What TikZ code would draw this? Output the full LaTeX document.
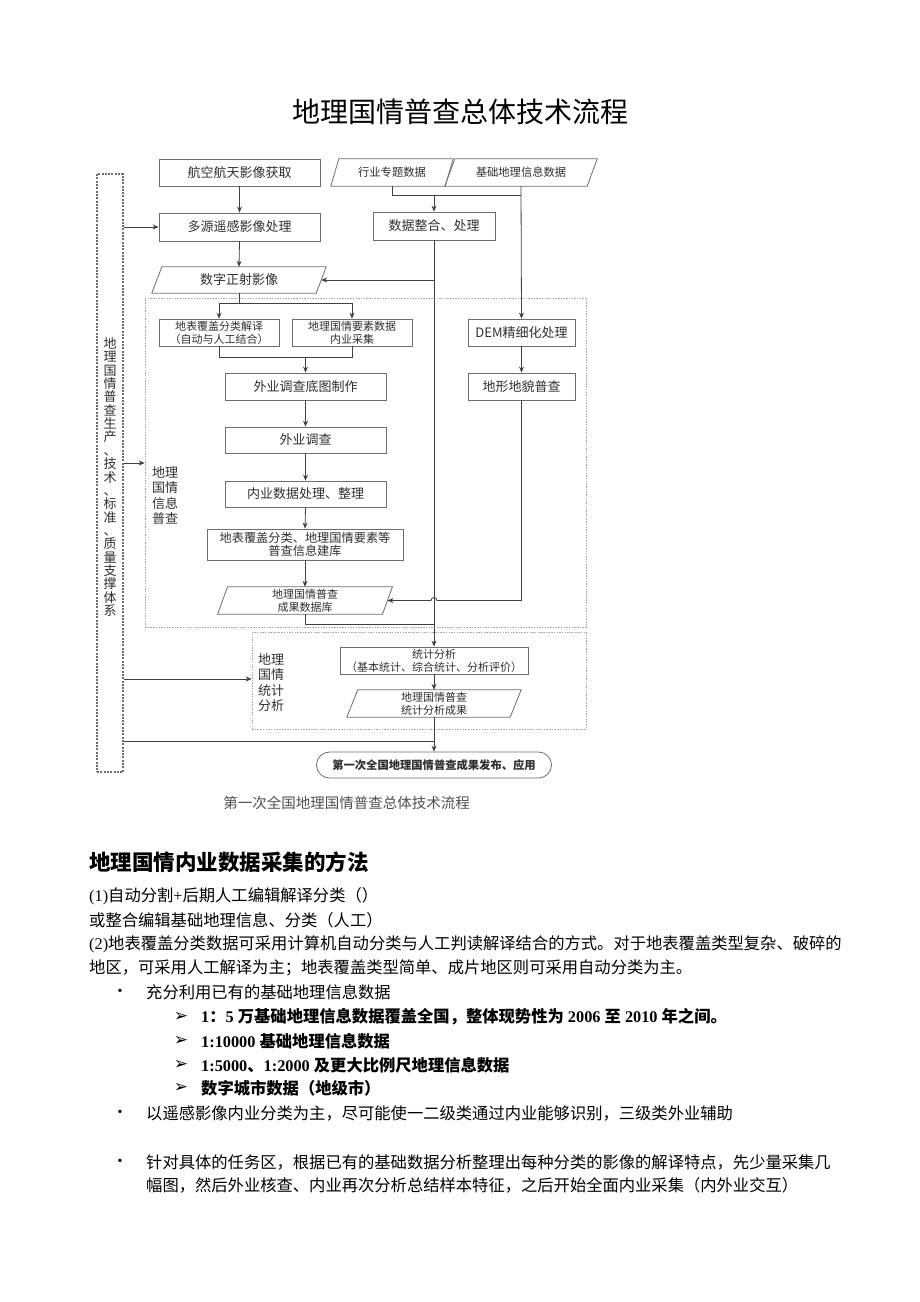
\documentclass[tikz,border=0pt]{standalone}
\usepackage{fontspec}
\setmainfont{Noto Sans CJK SC}
\newfontfamily\tnr{Liberation Serif}
\newfontfamily\dvs{DejaVu Sans}
\usetikzlibrary{arrows.meta}
\definecolor{boxc}{HTML}{6E6E6E}
\definecolor{linec}{HTML}{404040}
\definecolor{txt}{HTML}{303030}
\definecolor{contc}{HTML}{A8A8A8}
\definecolor{capc}{HTML}{505050}
\newcommand\drawpara[2]{\draw[boxc,line width=0.8pt] ([xshift=-#2]#1.south west) -- ([xshift=#2]#1.north west) -- ([xshift=#2]#1.north east) -- ([xshift=-#2]#1.south east) -- cycle;}
\tikzset{
  box/.style={draw=boxc, line width=0.8pt, inner sep=0pt, text=txt, align=center, font=\fontsize{13}{15}\selectfont},
  paranode/.style={inner sep=0pt, text=txt, align=center, font=\fontsize{13}{15}\selectfont},
  small/.style={font=\fontsize{11}{12.8}\selectfont},
  arr/.style={draw=linec, line width=0.8pt, -{Stealth[length=6pt,width=5pt]}},
  ln/.style={draw=linec, line width=0.8pt},
  cont/.style={draw=contc, line width=0.6pt, dash pattern=on 1.5pt off 1.2pt, inner sep=0pt},
  lbl/.style={inner sep=0pt, align=left, text=txt, font=\fontsize{13}{15.6}\selectfont},
  body/.style={anchor=west, inner sep=0pt, font=\fontsize{16.3}{20}\selectfont},
  bbody/.style={anchor=west, inner sep=0pt, font=\bfseries\fontsize{16.3}{20}\selectfont},
  bmark/.style={anchor=center, inner sep=0pt}
}
\begin{document}
\begin{tikzpicture}[x=1pt,y=-1pt]
\fill[white] (0,0) rectangle (920,1302);
\useasboundingbox (0,0) rectangle (920,1302);

% title
\node[font=\fontsize{28}{32}\selectfont] (title) at (460,112) {地理国情普查总体技术流程};

% containers
\node[cont, minimum width=441pt, minimum height=329pt] (c1) at (365.5,462.5) {};
\node[cont, minimum width=334pt, minimum height=97pt] (c2) at (419,680.5) {};
\node[draw=boxc, line width=1.1pt, dash pattern=on 2pt off 1.3pt, inner sep=0pt, minimum width=26pt, minimum height=598pt] (lbox) at (110,473) {};
\node[inner sep=0pt, align=center, text=txt, font=\fontsize{13}{13.35}\selectfont] (vt) at (110,477)
  {地\\理\\国\\情\\普\\查\\生\\产\\、\\技\\术\\、\\标\\准\\、\\质\\量\\支\\撑\\体\\系};
\node[lbl, anchor=north west] (l1) at (152,466) {地理\\国情\\信息\\普查};
\node[lbl, anchor=north west] (l2) at (258,653) {地理\\国情\\统计\\分析};

% boxes
\node[box, minimum width=161pt, minimum height=27pt] (acq) at (239.5,172.5) {航空航天影像获取};
\node[box, minimum width=161pt, minimum height=28pt] (msrs) at (239.5,227) {多源遥感影像处理};
\node[paranode, minimum width=164pt, minimum height=26pt] (dom) at (239,280) {数字正射影像};
\drawpara{dom}{5pt}
\node[paranode, font=\fontsize{11.3}{13}\selectfont, minimum width=114pt, minimum height=27pt] (hy) at (392,172.5) {行业专题数据};
\drawpara{hy}{4pt}
\node[paranode, font=\fontsize{11.3}{13}\selectfont, minimum width=142pt, minimum height=27pt] (jc) at (521,172.5) {基础地理信息数据};
\drawpara{jc}{5pt}
\node[box, minimum width=122pt, minimum height=28pt] (sjzh) at (434,226) {数据整合、处理};

\node[box, small, minimum width=120pt, minimum height=27pt] (dbfg) at (219,332.5) {地表覆盖分类解译\\（自动与人工结合）};
\node[box, small, minimum width=120pt, minimum height=27pt] (yssj) at (352,332.5) {地理国情要素数据\\内业采集};
\node[box, minimum width=161pt, minimum height=27pt] (dctz) at (305.5,386.5) {外业调查底图制作};
\node[box, minimum width=161pt, minimum height=26pt] (wydc) at (305.5,440) {外业调查};
\node[box, minimum width=161pt, minimum height=26pt] (nysj) at (305.5,494) {内业数据处理、整理};
\node[box, font=\fontsize{12.2}{13.5}\selectfont, minimum width=196pt, minimum height=31pt] (jk) at (305,544.5) {地表覆盖分类、地理国情要素等\\普查信息建库};
\node[paranode, small, minimum width=164.5pt, minimum height=27pt] (cg) at (305,600.5) {地理国情普查\\成果数据库};
\drawpara{cg}{5pt}
\node[box, minimum width=107pt, minimum height=27pt] (dem) at (521.5,332.5) {DEM精细化处理};
\node[box, minimum width=107pt, minimum height=27pt] (dxdm) at (521.5,386.5) {地形地貌普查};
\node[box, small, minimum width=188pt, minimum height=27pt] (tjfx) at (434,660.5) {统计分析\\（基本统计、综合统计、分析评价）};
\node[paranode, small, minimum width=163pt, minimum height=27pt] (tjcg) at (434,703.5) {地理国情普查\\统计分析成果};
\drawpara{tjcg}{5.5pt}
\node[box, rounded corners=13pt, font=\bfseries\fontsize{11.3}{13}\selectfont, minimum width=235pt, minimum height=26pt] (fin) at (434,765) {第一次全国地理国情普查成果发布、应用};

% connectors
\draw[arr] (acq.south) -- (msrs.north);
\draw[arr] (msrs.south) -- (dom.north);
\draw[arr] (lbox.east |- msrs.west) -- (msrs.west);
\coordinate (hb) at (392,195);
\draw[ln] (hy.south) -- (hb) -- (hb -| jc.south);
\draw[arr] (hb -| sjzh.north) -- (sjzh.north);
\draw[arr] (jc.south) -- (dem.north);
\draw[arr] (sjzh.south |- dom.east) -- (dom.east);
\draw[arr] (sjzh.south) -- (tjfx.north);
\coordinate (db) at (239,303);
\draw[ln] (dom.south) -- (db);
\draw[arr] (db) -| (dbfg.north);
\draw[arr] (db) -| (yssj.north);
\coordinate (mb) at (305.5,357);
\draw[ln] (dbfg.south) |- (mb);
\draw[ln] (yssj.south) |- (mb);
\draw[arr] (mb) -- (dctz.north);
\draw[arr] (dctz.south) -- (wydc.north);
\draw[arr] (wydc.south) -- (nysj.north);
\draw[arr] (nysj.south) -- (jk.north);
\draw[arr] (jk.south) -- (cg.north);
\coordinate (cj) at (434,624);
\draw[ln] (cg.south) |- (cj);
\draw[arr] (dem.south) -- (dxdm.north);
\coordinate (hop) at (dxdm.south |- cg.east);
\draw[arr] (dxdm.south) -- (hop) -- ([xshift=3pt]sjzh.south |- cg.east) arc[start angle=0, end angle=-180, radius=3] -- (cg.east);
\draw[arr] (tjfx.south) -- (tjcg.north);
\draw[arr] (tjcg.south) -- (fin.north);
\draw[arr] (lbox.east |- 0,463) -- (c1.west |- 0,463);
\draw[arr] (lbox.east |- 0,679) -- (c2.west |- 0,679);
\draw[ln] (lbox.east |- 0,741) -- (tjcg.south |- 0,741);

% caption
\node[font=\fontsize{14.5}{16}\selectfont, text=capc] (cap) at (346.5,803) {第一次全国地理国情普查总体技术流程};

% text section
\node[anchor=west, inner sep=0pt, font=\bfseries\fontsize{21.5}{24}\selectfont] (h) at (89,862) {地理国情内业数据采集的方法};
\node[body] (p1) at (89,896) {{\tnr (1)}自动分割{\tnr +}后期人工编辑解译分类（）};
\node[body] (p2) at (89,920) {或整合编辑基础地理信息、分类（人工）};
\node[body] (p3) at (89,944) {{\tnr (2)}地表覆盖分类数据可采用计算机自动分类与人工判读解译结合的方式。对于地表覆盖类型复杂、破碎的};
\node[body] (p4) at (89,968) {地区，可采用人工解译为主；地表覆盖类型简单、成片地区则可采用自动分类为主。};

\node[bmark, font=\tnr\fontsize{14}{16}\selectfont] (b1) at (120,992) {•};
\node[body] (t1) at (146,992) {充分利用已有的基础地理信息数据};
\node[bmark, font=\dvs\fontsize{17}{18}\selectfont] (a1) at (181,1017) {➢};
\node[bbody] (s1) at (201,1017) {{\tnr\bfseries 1}：{\tnr\bfseries 5 }万基础地理信息数据覆盖全国，整体现势性为{\tnr\bfseries\ 2006 }至{\tnr\bfseries\ 2010 }年之间。};
\node[bmark, font=\dvs\fontsize{17}{18}\selectfont] (a2) at (181,1041) {➢};
\node[bbody] (s2) at (201,1041) {{\tnr\bfseries 1:10000 }基础地理信息数据};
\node[bmark, font=\dvs\fontsize{17}{18}\selectfont] (a3) at (181,1065) {➢};
\node[bbody] (s3) at (201,1065) {{\tnr\bfseries 1:5000}、{\tnr\bfseries 1:2000 }及更大比例尺地理信息数据};
\node[bmark, font=\dvs\fontsize{17}{18}\selectfont] (a4) at (181,1088) {➢};
\node[bbody] (s4) at (201,1088) {数字城市数据（地级市）};
\node[bmark, font=\tnr\fontsize{14}{16}\selectfont] (b2) at (120,1113) {•};
\node[body] (t2) at (146,1113) {以遥感影像内业分类为主，尽可能使一二级类通过内业能够识别，三级类外业辅助};
\node[bmark, font=\tnr\fontsize{14}{16}\selectfont] (b3) at (120,1162) {•};
\node[body] (t3) at (146,1162) {针对具体的任务区，根据已有的基础数据分析整理出每种分类的影像的解译特点，先少量采集几};
\node[body] (t4) at (146,1185) {幅图，然后外业核查、内业再次分析总结样本特征，之后开始全面内业采集（内外业交互）};
\end{tikzpicture}
\end{document}
